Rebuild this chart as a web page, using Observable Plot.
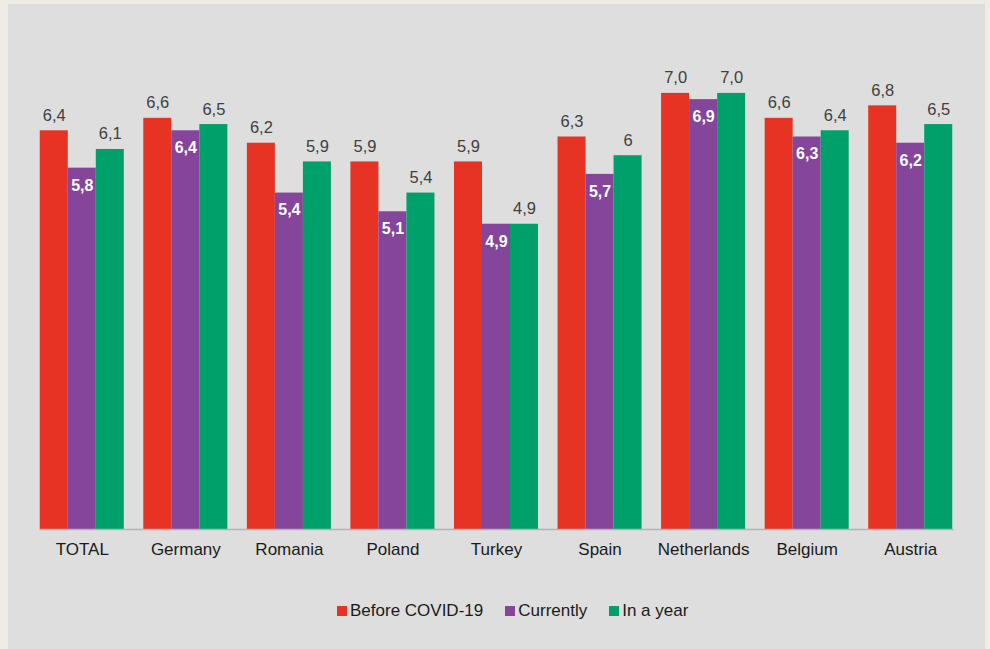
<!DOCTYPE html>
<html>
<head>
<meta charset="utf-8">
<script src="https://cdn.jsdelivr.net/npm/d3@7"></script>
<script src="https://cdn.jsdelivr.net/npm/@observablehq/plot@0.6"></script>
<style>
  html, body { margin: 0; padding: 0; background: #eeece4; }
  body { width: 990px; height: 649px; overflow: hidden; position: relative; font-family: "Liberation Sans", Arial, sans-serif; }
  #panel { position: absolute; left: 8px; top: 4px; width: 977px; height: 645px; background: #dedede; }
  #chart svg { display: block; }
  #legend { position: absolute; left: 318px; top: 597px; display: flex; align-items: center; font-size: 17px; color: #1a1a1a; }
  .item { display: flex; align-items: center; margin: 0 11px; }
  .swatch { width: 10px; height: 10px; margin-right: 3px; }
</style>
</head>
<body>
<div id="panel">
  <div id="chart"></div>
  <div id="legend"></div>
</div>
<script>
// Average scores per country, as printed (comma decimals)
const countries = ["TOTAL", "Germany", "Romania", "Poland", "Turkey", "Spain", "Netherlands", "Belgium", "Austria"];
const seriesNames = ["Before COVID-19", "Currently", "In a year"];
const seriesColors = ["#e63323", "#84459b", "#00a06a"];
const beforeCovid = ["6,4", "6,6", "6,2", "5,9", "5,9", "6,3", "7,0", "6,6", "6,8"];
const currently   = ["5,8", "6,4", "5,4", "5,1", "4,9", "5,7", "6,9", "6,3", "6,2"];
const inAYear     = ["6,1", "6,5", "5,9", "5,4", "4,9", "6",   "7,0", "6,4", "6,5"];

const toNumber = s => +s.replace(",", ".");
const columns = [beforeCovid, currently, inAYear];
const data = [];
countries.forEach((c, i) => {
  seriesNames.forEach((s, j) => {
    data.push({country: c, series: s, label: columns[j][i], value: toNumber(columns[j][i])});
  });
});
const outside = data.filter(d => d.series !== "Currently");
const inside = data.filter(d => d.series === "Currently");

const W = 977, H = 575;
const chart = Plot.plot({
  width: W,
  height: H,
  marginLeft: 22,
  marginRight: 23,
  marginTop: 20,
  marginBottom: 50,
  style: {background: "transparent", fontFamily: "Liberation Sans, Arial, sans-serif"},
  fx: {domain: countries, paddingInner: 0.1884, paddingOuter: 0.0942, round: false, label: null, axis: null},
  x: {domain: seriesNames, padding: 0, round: false, axis: null},
  y: {domain: [0, 8], range: [525, 26.6], axis: null},
  color: {domain: seriesNames, range: seriesColors},
  marks: [
    Plot.barY(data, {fx: "country", x: "series", y: "value", fill: "series"}),
    // baseline across the whole plot area (bottom edge of the frame sits at y = 0)
    Plot.frame({anchor: "bottom", stroke: "#b3b3b3", strokeWidth: 1.3, facet: "super"}),
    Plot.text(outside, {fx: "country", x: "series", y: "value", text: "label",
      fill: "#404040", fontSize: 16.5, lineAnchor: "bottom", dy: -10}),
    Plot.text(inside, {fx: "country", x: "series", y: "value", text: "label",
      fill: "white", fontSize: 16, fontWeight: "bold", lineAnchor: "top", dy: 11}),
    Plot.text(countries, {fx: d => d, frameAnchor: "bottom", text: d => d,
      fill: "#1a1a1a", fontSize: 17, lineAnchor: "top", dy: 13})
  ]
});
document.getElementById("chart").append(chart);

const legend = document.getElementById("legend");
seriesNames.forEach((s, i) => {
  const item = document.createElement("div");
  item.className = "item";
  const sw = document.createElement("span");
  sw.className = "swatch";
  sw.style.background = seriesColors[i];
  const label = document.createElement("span");
  label.textContent = s;
  item.append(sw, label);
  legend.append(item);
});
</script>
</body>
</html>
